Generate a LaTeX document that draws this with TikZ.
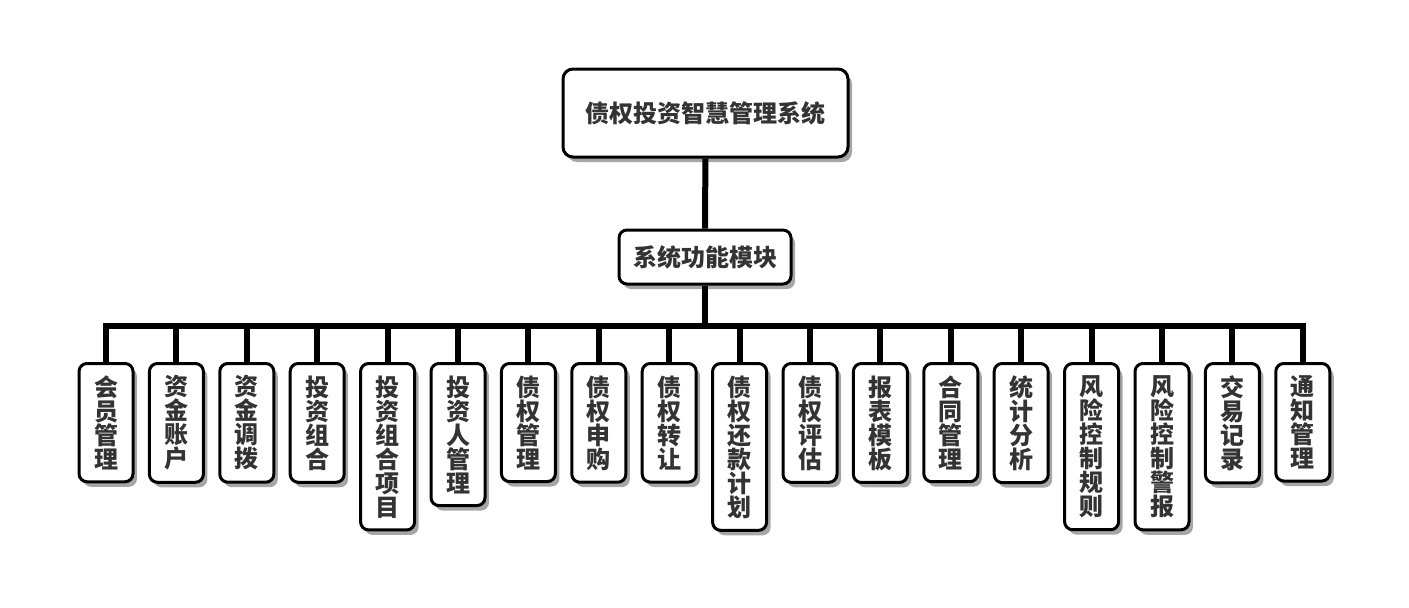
\documentclass[tikz,border=0pt]{standalone}
\usepackage{fontspec}
\newfontfamily\cjk{Noto Sans CJK SC}
\usetikzlibrary{shadows}

\begin{document}
\begin{tikzpicture}[
        x=0.5pt, y=-0.5pt,
    box/.style={draw=black, line width=1.5pt, fill=white, rounded corners=4pt,
        text=black!80, font=\cjk\bfseries\fontsize{12}{12}\selectfont,
        drop shadow={shadow xshift=2pt, shadow yshift=-2.5pt, opacity=0.35, fill=black}},
    topbox/.style={box, minimum width=142.5pt, minimum height=44pt, rounded corners=5pt},
    midbox/.style={box, minimum width=86pt, minimum height=27pt},
    leafbox/.style={box, anchor=north, minimum width=27pt, inner ysep=6pt, align=center},
    link/.style={line width=3pt}
]
\useasboundingbox (0,0) rectangle (1409,607);

    \node[topbox] (sys) at (705.5,113) {债权投资智慧管理系统};
    \node[midbox] (mod) at (705,257) {系统功能模块};

    \foreach \txt [count=\i] in {会\\员\\管\\理, 资\\金\\账\\户, 资\\金\\调\\拨,
        投\\资\\组\\合, 投\\资\\组\\合\\项\\目, 投\\资\\人\\管\\理, 债\\权\\管\\理,
        债\\权\\申\\购, 债\\权\\转\\让, 债\\权\\还\\款\\计\\划, 债\\权\\评\\估,
        报\\表\\模\\板, 合\\同\\管\\理, 统\\计\\分\\析, 风\\险\\控\\制\\规\\则,
        风\\险\\控\\制\\警\\报, 交\\易\\记\\录, 通\\知\\管\\理}
    {
        \node[leafbox] (m\i) at ({106+70.4*(\i-1)},362) {\txt};
    }

    \draw[link] (sys) -- (mod);
    \foreach \i in {1,...,18}
        \draw[link] (mod.south) -- ++(0,40) -| (m\i.north);
\end{tikzpicture}
\end{document}
